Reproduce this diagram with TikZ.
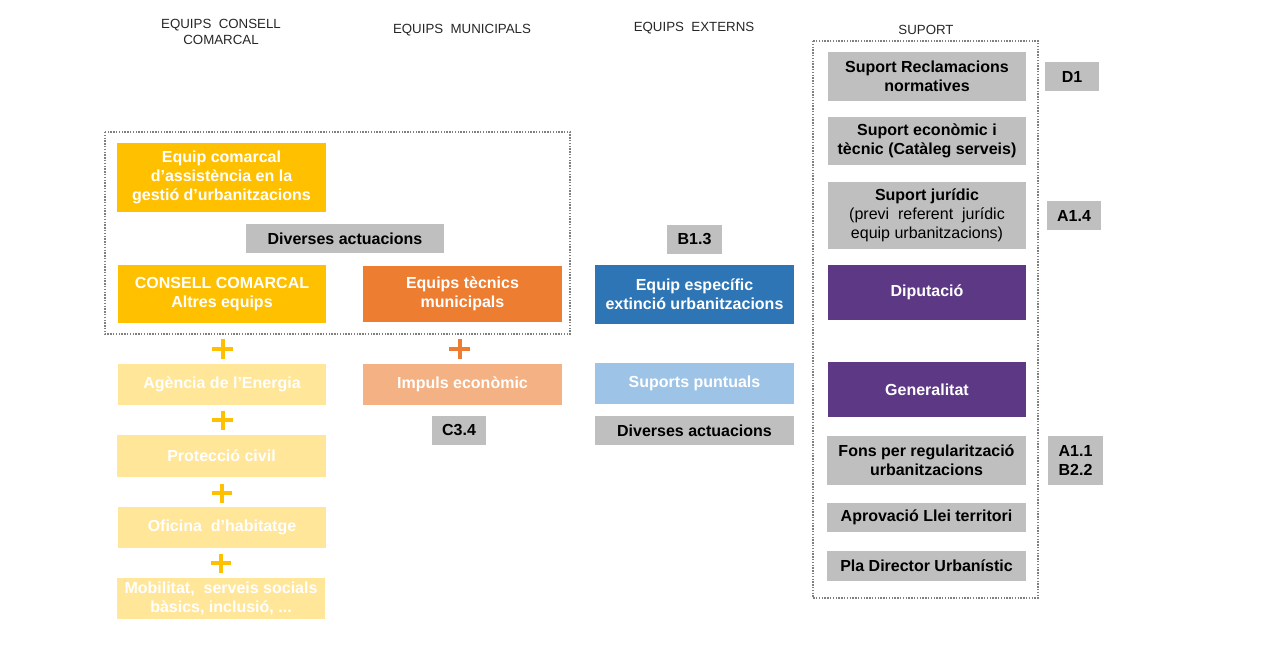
\documentclass[tikz,border=0pt]{standalone}
\usepackage{fontspec}
\setmainfont{Liberation Sans}
\definecolor{cgray}{HTML}{BFBFBF}
\definecolor{cyel}{HTML}{FFC000}
\definecolor{clyel}{HTML}{FFE699}
\definecolor{cora}{HTML}{ED7D31}
\definecolor{clora}{HTML}{F4B183}
\definecolor{cblue}{HTML}{2E75B6}
\definecolor{clblue}{HTML}{9DC3E6}
\definecolor{cpur}{HTML}{5C3885}
\definecolor{cdot}{HTML}{808080}
\tikzset{
  box/.style={rectangle, inner sep=0pt, align=center, font=\fontsize{16}{19}\selectfont\bfseries},
  gbox/.style={box, fill=cgray, text=black},
  wbox/.style={box, text=white},
  hdr/.style={inner sep=0pt, align=center, font=\fontsize{13.3}{16}\selectfont, text=black!85},
  dotbox/.style={draw=cdot, line width=1.3pt, dash pattern=on 1.4pt off 1.4pt},
  plusmark/.style={line width=4pt},
}
\begin{document}
\begin{tikzpicture}[x=1pt,y=-1pt]
\useasboundingbox (0,0) rectangle (1280,652);
% headers
\node[hdr] (h1) at (221,32) {EQUIPS\ \ CONSELL\\COMARCAL};
\node[hdr] (h2) at (462,30) {EQUIPS\ \ MUNICIPALS};
\node[hdr] (h3) at (694,28) {EQUIPS\ \ EXTERNS};
\node[hdr] (h4) at (926,30) {SUPORT};
% dotted frames
\draw[dotbox] (105,132) rectangle (570,334);
\draw[dotbox] (813,41) rectangle (1038,598);
% column 1
\node[wbox, fill=cyel, minimum width=209pt, minimum height=69pt] (eqc) at (221.5,177.5) {Equip comarcal\\d’assistència en la\\gestió d’urbanitzacions};
\node[gbox, minimum width=198pt, minimum height=29pt] (div1) at (345,238.5) {Diverses actuacions};
\node[wbox, fill=cyel, minimum width=208pt, minimum height=58pt] (cc) at (222,294) {CONSELL COMARCAL\\Altres equips};
\node[wbox, fill=clyel, minimum width=208pt, minimum height=41pt] (age) at (222,384.5) {Agència de l’Energia};
\node[wbox, fill=clyel, minimum width=209pt, minimum height=42pt] (pc) at (221.5,456) {Protecció civil};
\node[wbox, fill=clyel, minimum width=208pt, minimum height=41pt] (of) at (222,527.5) {Oficina\ \ d’habitatge};
\node[wbox, fill=clyel, minimum width=208pt, minimum height=41pt] (mob) at (221,598.5) {Mobilitat,\ \ serveis socials\\bàsics, inclusió, ...};
% plus signs column 1
\draw[plusmark, cyel] (222.5,339.5) -- (222.5,358.5) (212,349) -- (233,349);
\draw[plusmark, cyel] (222.5,410.5) -- (222.5,429.5) (212,420) -- (233,420);
\draw[plusmark, cyel] (222,483.5) -- (222,502.5) (212,493) -- (232,493);
\draw[plusmark, cyel] (221,553.5) -- (221,572.5) (211,563) -- (231,563);
% column 2
\node[wbox, fill=cora, minimum width=199pt, minimum height=56pt] (etm) at (462.5,294) {Equips tècnics\\municipals};
\draw[plusmark, cora] (459.5,339.5) -- (459.5,358.5) (449,349) -- (470,349);
\node[wbox, fill=clora, minimum width=199pt, minimum height=41pt] (imp) at (462.5,384.5) {Impuls econòmic};
\node[gbox, minimum width=54pt, minimum height=29pt] (c34) at (459,430.5) {C3.4};
% column 3
\node[gbox, minimum width=55pt, minimum height=29pt] (b13) at (694.5,239.5) {B1.3};
\node[wbox, fill=cblue, minimum width=199pt, minimum height=59pt] (ees) at (694.5,294.5) {Equip específic\\extinció urbanitzacions};
\node[wbox, fill=clblue, minimum width=199pt, minimum height=41pt] (sp) at (694.5,383.5) {Suports puntuals};
\node[gbox, minimum width=199pt, minimum height=29pt] (div2) at (694.5,430.5) {Diverses actuacions};
% column 4
\node[gbox, minimum width=198pt, minimum height=49pt] (src) at (927,76.5) {Suport Reclamacions\\normatives};
\node[gbox, minimum width=54pt, minimum height=29pt] (d1) at (1072,76.5) {D1};
\node[gbox, minimum width=198pt, minimum height=48pt] (sec) at (927,141) {Suport econòmic i\\tècnic (Catàleg serveis)};
\node[gbox, minimum width=198pt, minimum height=67pt] (sj) at (927,215.5) {Suport jurídic\\{\mdseries (previ\ \ referent\ \ jurídic}\\{\mdseries equip urbanitzacions)}};
\node[gbox, minimum width=54pt, minimum height=29pt] (a14) at (1074,215.5) {A1.4};
\node[wbox, fill=cpur, minimum width=198pt, minimum height=55pt] (dip) at (927,292.5) {Diputació};
\node[wbox, fill=cpur, minimum width=198pt, minimum height=55pt] (gen) at (927,389.5) {Generalitat};
\node[gbox, minimum width=199pt, minimum height=49pt] (fons) at (926.5,460.5) {Fons per regularització\\urbanitzacions};
\node[gbox, minimum width=55pt, minimum height=49pt] (a11) at (1075.5,460.5) {A1.1\\B2.2};
\node[gbox, minimum width=199pt, minimum height=29pt] (apr) at (926.5,517.5) {Aprovació Llei territori};
\node[gbox, minimum width=199pt, minimum height=30pt] (pla) at (926.5,566) {Pla Director Urbanístic};
\end{tikzpicture}
\end{document}
